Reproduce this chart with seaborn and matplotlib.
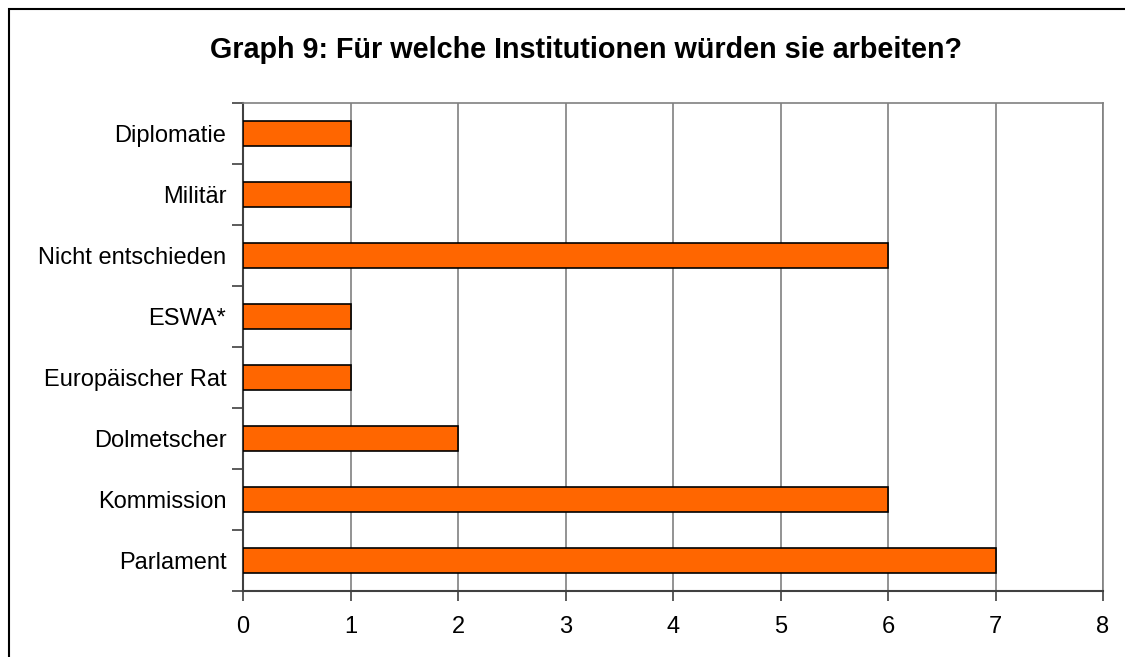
import matplotlib
matplotlib.use("Agg")
import matplotlib.pyplot as plt
import seaborn as sns
import pandas as pd
import numpy as np
from matplotlib.patches import Rectangle

# categories from top to bottom
institutions = ["Diplomatie", "Militär", "Nicht entschieden", "ESWA*",
                "Europäischer Rat", "Dolmetscher", "Kommission", "Parlament"]
counts = [1, 1, 6, 1, 1, 2, 6, 7]
x_ticks = [0, 1, 2, 3, 4, 5, 6, 7, 8]

df = pd.DataFrame({"institution": institutions, "count": counts})

sns.set_style("white")
plt.rcParams["font.family"] = ["Liberation Sans", "DejaVu Sans"]
plt.rcParams["text.color"] = "black"
plt.rcParams["xtick.color"] = "black"
plt.rcParams["ytick.color"] = "black"

fig = plt.figure(figsize=(11.25, 6.57), dpi=100)
ax = fig.add_axes([243 / 1125, 66 / 657, 860 / 1125, 488 / 657])

sns.barplot(data=df, x="count", y="institution", order=institutions,
            color="#FF6600", saturation=1, width=0.4,
            edgecolor="black", linewidth=1.2, ax=ax, zorder=3)

ax.set_xlim(0, 8)
ax.set_ylim(7.5, -0.5)
ax.set_xticks(x_ticks)
ax.xaxis.grid(True, color="#808080", linewidth=1.2, zorder=0)
ax.set_axisbelow(True)
ax.set_xlabel("")
ax.set_ylabel("")

# ticks: x outward at integers, y at category boundaries
ax.tick_params(axis="x", direction="out", length=7, width=1.2, color="#404040",
               labelcolor="black", labelsize=17, pad=11, bottom=True)
ax.tick_params(axis="y", which="major", length=0, labelsize=17, pad=12,
               labelcolor="black")
ax.set_yticks(np.arange(-0.5, 8, 1), minor=True)
ax.tick_params(axis="y", which="minor", direction="out", length=8, width=1.2,
               color="#404040", left=True)

for side in ["left", "bottom"]:
    ax.spines[side].set_color("#404040")
    ax.spines[side].set_linewidth(1.5)
for side in ["top", "right"]:
    ax.spines[side].set_color("#808080")
    ax.spines[side].set_linewidth(1.2)

fig.text(586 / 1125, 1 - 50 / 657,
         "Graph 9: Für welche Institutionen würden sie arbeiten?",
         ha="center", va="center", fontsize=20.7, fontweight="bold",
         color="black")

# outer chart border (extends beyond the image at right/bottom)
fig.patches.append(Rectangle((9 / 1125, -0.1), 1.2, 1.1 - 9 / 657,
                             transform=fig.transFigure, fill=False,
                             edgecolor="black", linewidth=1.5))

fig.savefig("out.png", dpi=100)
